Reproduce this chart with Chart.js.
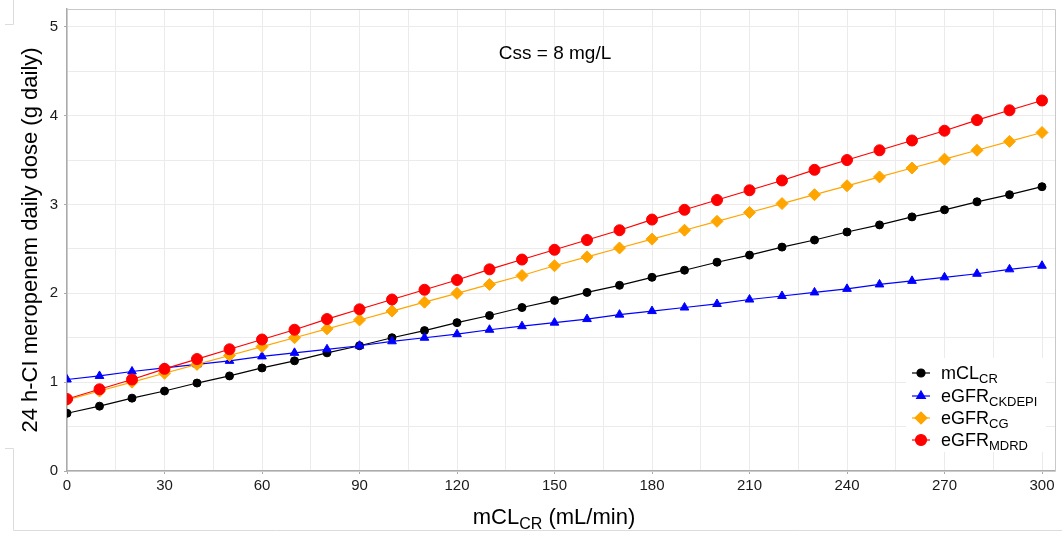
<!DOCTYPE html>
<html>
<head>
<meta charset="utf-8">
<script src="https://cdn.jsdelivr.net/npm/chart.js@4"></script>
<style>
  html, body { margin: 0; padding: 0; background: #fff; }
  #wrap { width: 1062px; height: 534px; position: relative; }
</style>
</head>
<body>
<div id="wrap"><canvas id="doseChart" width="1062" height="534"></canvas></div>
<script>
// clearance values (mL/min)
const clearance = [0, 10, 20, 30, 40, 50, 60, 70, 80, 90, 100, 110, 120, 130, 140, 150,
    160, 170, 180, 190, 200, 210, 220, 230, 240, 250, 260, 270, 280, 290, 300];

// daily dose (g) per method
const mclcr = [0.65, 0.73, 0.82, 0.90, 0.99, 1.07, 1.16, 1.24, 1.33, 1.41, 1.50, 1.58, 1.67, 1.75, 1.84, 1.92,
    2.01, 2.09, 2.18, 2.26, 2.35, 2.43, 2.52, 2.60, 2.69, 2.77, 2.86, 2.94, 3.03, 3.11, 3.20];
const ckdepi = [1.03, 1.07, 1.12, 1.16, 1.20, 1.24, 1.29, 1.33, 1.37, 1.41, 1.46, 1.50, 1.54, 1.59, 1.63, 1.67,
    1.71, 1.76, 1.80, 1.84, 1.88, 1.93, 1.97, 2.01, 2.05, 2.10, 2.14, 2.18, 2.22, 2.27, 2.31];
const cg = [0.80, 0.90, 1.00, 1.10, 1.20, 1.30, 1.40, 1.50, 1.60, 1.70, 1.80, 1.90, 2.00, 2.10, 2.20, 2.31,
    2.41, 2.51, 2.61, 2.71, 2.81, 2.91, 3.01, 3.11, 3.21, 3.31, 3.41, 3.51, 3.61, 3.71, 3.81];
const mdrd = [0.81, 0.92, 1.03, 1.15, 1.26, 1.37, 1.48, 1.59, 1.71, 1.82, 1.93, 2.04, 2.15, 2.27, 2.38, 2.49,
    2.60, 2.71, 2.83, 2.94, 3.05, 3.16, 3.27, 3.39, 3.50, 3.61, 3.72, 3.83, 3.95, 4.06, 4.17];

// grid lines + which of them get a label
const xGrid = [0, 15, 30, 45, 60, 75, 90, 105, 120, 135, 150, 165, 180, 195, 210, 225, 240, 255, 270, 285, 300];
const xLabels = [0, 30, 60, 90, 120, 150, 180, 210, 240, 270, 300];
const yGrid = [0, 0.5, 1, 1.5, 2, 2.5, 3, 3.5, 4, 4.5, 5];
const yLabels = [0, 1, 2, 3, 4, 5];

const seriesNames = [["mCL", "CR"], ["eGFR", "CKDEPI"], ["eGFR", "CG"], ["eGFR", "MDRD"]];

const FONT = "'Liberation Sans', Arial, sans-serif";
const AXIS_GREY = "#ababab";

const toPoints = vals => vals.map((v, i) => ({ x: clearance[i], y: v }));

// text with a subscript part, returns total width
function subText(ctx, main, sub, x, y, size) {
    const subSize = Math.round(size * 0.72);
    ctx.textAlign = "left";
    ctx.textBaseline = "alphabetic";
    ctx.font = size + "px " + FONT;
    const w1 = ctx.measureText(main).width;
    ctx.fillText(main, x, y);
    ctx.font = subSize + "px " + FONT;
    ctx.fillText(sub, x + w1, y + size * 0.22);
    return w1 + ctx.measureText(sub).width;
}

const extras = {
    id: "extras",
    afterDraw(chart) {
        const ctx = chart.ctx;
        const a = chart.chartArea;
        ctx.save();

        // panel frame (top / right)
        ctx.strokeStyle = "#c8c8c8";
        ctx.lineWidth = 1;
        ctx.beginPath();
        ctx.moveTo(a.left, a.top + 0.5);
        ctx.lineTo(a.right + 0.5, a.top + 0.5);
        ctx.lineTo(a.right + 0.5, a.bottom);
        ctx.stroke();

        // outer page edges
        ctx.strokeStyle = "#dcdcdc";
        ctx.beginPath();
        ctx.moveTo(5, 24.5); ctx.lineTo(13.5, 24.5); ctx.lineTo(13.5, 0);
        ctx.moveTo(5, 448.5); ctx.lineTo(13.5, 448.5); ctx.lineTo(13.5, 530.5); ctx.lineTo(1062, 530.5);
        ctx.stroke();

        // annotation
        ctx.fillStyle = "#000";
        ctx.font = "19px " + FONT;
        ctx.textAlign = "center";
        ctx.textBaseline = "middle";
        ctx.fillText("Css = 8 mg/L", 555, 54);

        // y title
        ctx.save();
        ctx.translate(31, 240);
        ctx.rotate(-Math.PI / 2);
        ctx.font = "22px " + FONT;
        ctx.textAlign = "center";
        ctx.textBaseline = "middle";
        ctx.fillText("24 h-CI meropenem daily dose (g daily)", 0, 0);
        ctx.restore();

        // x title
        ctx.font = "22px " + FONT;
        const wMain = ctx.measureText("mCL").width;
        const wTail = ctx.measureText(" (mL/min)").width;
        ctx.font = "16px " + FONT;
        const wSub = ctx.measureText("CR").width;
        const sx = 554 - (wMain + wSub + wTail) / 2;
        ctx.textAlign = "left";
        ctx.textBaseline = "alphabetic";
        ctx.font = "22px " + FONT;
        ctx.fillText("mCL", sx, 524);
        ctx.font = "16px " + FONT;
        ctx.fillText("CR", sx + wMain, 529);
        ctx.font = "22px " + FONT;
        ctx.fillText(" (mL/min)", sx + wMain + wSub, 524);

        // legend
        ctx.fillStyle = "#fff";
        ctx.fillRect(906, 358, 140, 94);
        const rows = [373, 396, 418, 440];
        chart.data.datasets.forEach((ds, i) => {
            const y = rows[i];
            ctx.strokeStyle = ds.borderColor;
            ctx.lineWidth = 1.2;
            ctx.beginPath();
            ctx.moveTo(912, y);
            ctx.lineTo(930, y);
            ctx.stroke();
            ctx.fillStyle = ds.pointBackgroundColor;
            ctx.strokeStyle = ds.pointBackgroundColor;
            Chart.helpers.drawPoint(ctx, {
                pointStyle: ds.pointStyle,
                radius: ds.pointRadius,
                rotation: 0,
                borderWidth: 1
            }, 921, y);
            ctx.fillStyle = "#000";
            subText(ctx, seriesNames[i][0], seriesNames[i][1], 941, y + 6, 18);
        });

        ctx.restore();
    }
};

const datasets = [
    { data: toPoints(mclcr), color: "#000000", style: "circle", r: 4, order: 4 },
    { data: toPoints(ckdepi), color: "#0000ff", style: "triangle", r: 5, order: 3 },
    { data: toPoints(cg), color: "#ffa500", style: "rectRot", r: 6, order: 2 },
    { data: toPoints(mdrd), color: "#ff0000", style: "circle", r: 5.5, order: 1 }
].map(d => ({
    data: d.data,
    borderColor: d.color,
    backgroundColor: d.color,
    pointBackgroundColor: d.color,
    pointBorderColor: d.color,
    pointStyle: d.style,
    pointRadius: d.r,
    pointBorderWidth: 1,
    borderWidth: 1.2,
    tension: 0,
    order: d.order
}));

new Chart(document.getElementById("doseChart"), {
    type: "line",
    data: { datasets: datasets },
    options: {
        responsive: false,
        animation: false,
        layout: { padding: { left: 0, right: 4, top: 9, bottom: 0 } },
        plugins: { legend: { display: false }, tooltip: { enabled: false } },
        scales: {
            x: {
                type: "linear",
                min: 0,
                max: 304,
                afterBuildTicks: s => { s.ticks = xGrid.map(v => ({ value: v })); },
                afterFit: s => { s.height = 63; s.paddingLeft = 0; s.paddingRight = 0; },
                grid: {
                    color: "#ebebeb",
                    lineWidth: 1,
                    tickLength: 3,
                    tickColor: c => xLabels.includes(c.tick.value) ? AXIS_GREY : "rgba(0,0,0,0)"
                },
                border: { color: AXIS_GREY, width: 1.5 },
                ticks: {
                    autoSkip: false,
                    maxRotation: 0,
                    padding: 3,
                    color: "#1a1a1a",
                    font: { family: FONT, size: 15 },
                    callback: v => xLabels.includes(v) ? String(v) : ""
                }
            },
            y: {
                type: "linear",
                min: 0,
                max: 5.2,
                afterBuildTicks: s => { s.ticks = yGrid.map(v => ({ value: v })); },
                afterFit: s => { s.width = 67; s.paddingTop = 0; s.paddingBottom = 0; },
                grid: {
                    color: "#ebebeb",
                    lineWidth: 1,
                    tickLength: 3,
                    tickColor: c => yLabels.includes(c.tick.value) ? AXIS_GREY : "rgba(0,0,0,0)"
                },
                border: { color: AXIS_GREY, width: 1.5 },
                ticks: {
                    autoSkip: false,
                    padding: 6,
                    color: "#1a1a1a",
                    font: { family: FONT, size: 15 },
                    callback: v => yLabels.includes(v) ? String(v) : ""
                }
            }
        }
    },
    plugins: [extras]
});
</script>
</body>
</html>
